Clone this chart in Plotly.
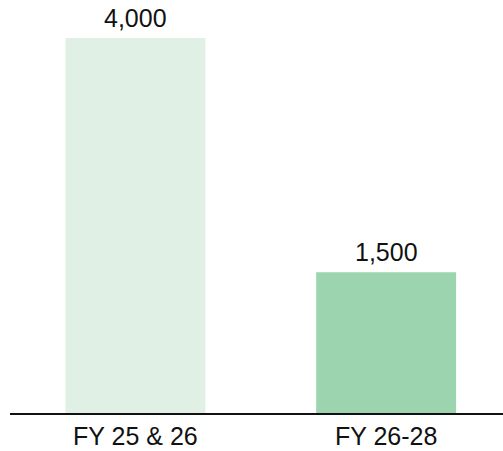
import plotly.graph_objects as go

categories = ["FY 25 & 26", "FY 26-28"]
values = [4000, 1500]
labels = ["4,000", "1,500"]
colors = ["#e0f0e5", "#9dd4b0"]

fig = go.Figure(go.Bar(
    x=categories, y=values,
    marker=dict(color=colors, line=dict(width=0)),
    width=0.558, cliponaxis=False,
))
for c, v, t in zip(categories, values, labels):
    fig.add_annotation(x=c, y=v, text=t, showarrow=False, yanchor="bottom",
                       yshift=4, font=dict(family="Liberation Sans, Arial", size=25, color="#111"))
fig.update_layout(
    width=503, height=451,
    margin=dict(l=10, r=0, t=0, b=38),
    plot_bgcolor="white", paper_bgcolor="white",
    showlegend=False,
    font=dict(family="Liberation Sans, Arial", size=25, color="#111"),
    xaxis=dict(range=[-0.5, 1.466], showline=True, linecolor="#111", linewidth=1.5,
               ticks="", showgrid=False, tickfont=dict(size=25)),
    yaxis=dict(range=[0, 4405], visible=False, showgrid=False),
)
fig.write_html("out.html")
